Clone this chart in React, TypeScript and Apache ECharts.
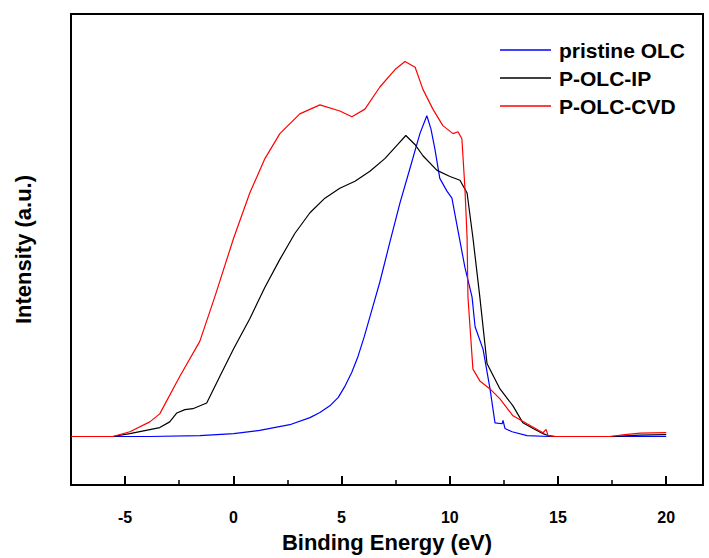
import React, { useEffect, useRef } from "react";
import * as echarts from "echarts";

const seriesNames = ["pristine OLC", "P-OLC-IP", "P-OLC-CVD"];
const seriesColors = ["#0000ff", "#000000", "#ff0000"];

const majorTicks = [-5, 0, 5, 10, 15, 20];
const minorTicks = [-2.5, 2.5, 7.5, 12.5, 17.5];

const pristineOLC: [number, number][] = [
  [-7.5, 10.3], [-3.86, 10.3], [-1.55, 10.5], [0.02, 10.9], [1.22, 11.6], [2.61, 12.8],
  [3.54, 14.3], [4.0, 15.4], [4.46, 16.8], [4.85, 18.6], [5.16, 21.0], [5.47, 23.9], [5.76, 27.3],
  [6.05, 31.5], [6.31, 35.7], [6.77, 43.1],
  [7.23, 51.5], [7.7, 59.9], [8.16, 67.2], [8.62, 74.6], [8.94, 78.4], [9.13, 75.6],
  [9.31, 71.4], [9.54, 65.1], [9.87, 62.4], [10.1, 60.9], [10.38, 54.0], [10.7, 46.2],
  [11.03, 39.9], [11.17, 33.6], [11.54, 28.8], [11.86, 20.4], [12.09, 13.2], [12.42, 13.0],
  [12.46, 13.7], [12.55, 12.0], [12.88, 11.3], [13.57, 10.5], [14.6, 10.3], [20.0, 10.3],
];

const pOlcIP: [number, number][] = [
  [-7.5, 10.3], [-5.57, 10.3], [-4.78, 10.9], [-3.4, 12.2], [-2.94, 13.4], [-2.61, 15.3],
  [-2.24, 16.0], [-1.87, 16.2], [-1.23, 17.4], [-0.62, 23.1], [0.02, 29.0], [0.76, 35.3],
  [1.46, 42.0], [2.15, 47.9], [2.84, 53.4], [3.54, 57.8], [4.23, 60.9], [4.92, 63.0],
  [5.62, 64.5], [6.31, 66.6], [7.0, 69.3], [7.6, 72.3], [7.97, 74.2], [8.39, 72.3],
  [8.76, 69.9], [9.41, 66.8], [10.01, 65.5], [10.47, 64.7], [10.8, 62.0], [11.07, 52.5],
  [11.39, 39.9], [11.72, 25.8], [12.32, 20.4], [12.92, 16.8], [13.38, 13.2], [13.85, 12.0],
  [14.31, 10.9], [14.54, 10.5], [14.87, 10.3], [17.4, 10.3], [18.8, 10.6], [20.0, 10.7],
];

const pOlcCVD: [number, number][] = [
  [-7.5, 10.3], [-5.57, 10.3], [-4.78, 11.3], [-3.86, 13.4], [-3.4, 15.1], [-2.47, 23.1],
  [-1.55, 30.5], [-0.86, 39.9], [0.02, 52.5], [0.76, 62.0], [1.46, 69.3], [2.15, 74.6],
  [3.07, 78.8], [4.0, 80.7], [4.92, 79.4], [5.48, 78.2], [6.08, 79.8], [6.77, 84.5],
  [7.47, 88.2], [7.93, 89.9], [8.4, 88.7], [8.76, 84.0], [9.22, 79.8], [9.68, 76.3],
  [10.15, 74.6], [10.38, 75.0], [10.56, 73.5], [10.7, 63.0], [10.8, 52.5], [10.84, 39.9],
  [11.07, 24.6], [11.39, 22.1], [11.86, 20.4], [12.32, 18.3], [12.92, 14.7], [13.57, 13.0],
  [14.31, 11.1], [14.45, 11.8], [14.54, 10.5], [14.87, 10.3], [17.4, 10.3], [18.1, 10.7],
  [18.8, 11.0], [20.0, 11.1],
];

const seriesData = [pristineOLC, pOlcIP, pOlcCVD];

const FONT = "'Liberation Sans', Arial, sans-serif";

export default function App() {
  const ref = useRef<HTMLDivElement>(null);
  useEffect(() => {
    if (!ref.current) return;
    const chart = echarts.init(ref.current, undefined, { renderer: "svg" });
    chart.setOption({
      animation: false,
      backgroundColor: "#ffffff",
      grid: {
        left: 71,
        right: 6,
        top: 14,
        bottom: 68,
        show: true,
        borderColor: "#000",
        borderWidth: 2,
        backgroundColor: "transparent",
      },
      legend: {
        orient: "vertical",
        left: 495,
        top: 33,
        itemWidth: 51,
        itemHeight: 1.5,
        itemGap: 4,
        icon: "rect",
        data: seriesNames,
        textStyle: {
          fontFamily: FONT,
          fontWeight: "bold",
          fontSize: 21,
          lineHeight: 24,
          color: "#000",
          padding: [0, 0, 0, 3],
        },
      },
      xAxis: [
        {
          type: "value",
          min: -7.5,
          max: 21.7,
          name: "Binding Energy (eV)",
          nameLocation: "middle",
          nameGap: 46,
          nameTextStyle: { fontFamily: FONT, fontWeight: "bold", fontSize: 22, color: "#000" },
          axisLine: { show: true, onZero: false, lineStyle: { color: "#000", width: 2 } },
          axisTick: {
            show: true,
            inside: true,
            length: 9,
            lineStyle: { color: "#000", width: 2 },
            customValues: majorTicks,
          },
          axisLabel: {
            show: true,
            margin: 24,
            fontFamily: FONT,
            fontWeight: "bold",
            fontSize: 16,
            color: "#000",
            customValues: majorTicks,
          },
          splitLine: { show: false },
        },
        {
          type: "value",
          min: -7.5,
          max: 21.7,
          position: "bottom",
          axisLine: { show: false, onZero: false },
          axisTick: {
            show: true,
            inside: true,
            length: 5,
            lineStyle: { color: "#000", width: 1.5 },
            customValues: minorTicks,
          },
          axisLabel: { show: false },
          splitLine: { show: false },
        },
      ],
      yAxis: {
        type: "value",
        min: 0,
        max: 100,
        name: "Intensity (a.u.)",
        nameLocation: "middle",
        nameGap: 37,
        nameTextStyle: { fontFamily: FONT, fontWeight: "bold", fontSize: 22, color: "#000" },
        axisLine: { show: true, onZero: false, lineStyle: { color: "#000", width: 2 } },
        axisTick: { show: false },
        axisLabel: { show: false },
        splitLine: { show: false },
      },
      series: seriesNames.map((name, i) => ({
        name,
        type: "line",
        xAxisIndex: 0,
        data: seriesData[i],
        symbol: "none",
        lineStyle: { color: seriesColors[i], width: 1.2 },
        itemStyle: { color: seriesColors[i] },
      })),
    });
    return () => chart.dispose();
  }, []);
  return (
    <div
      ref={ref}
      style={{ position: "absolute", left: 0, top: 0, width: 709, height: 558 }}
    />
  );
}
